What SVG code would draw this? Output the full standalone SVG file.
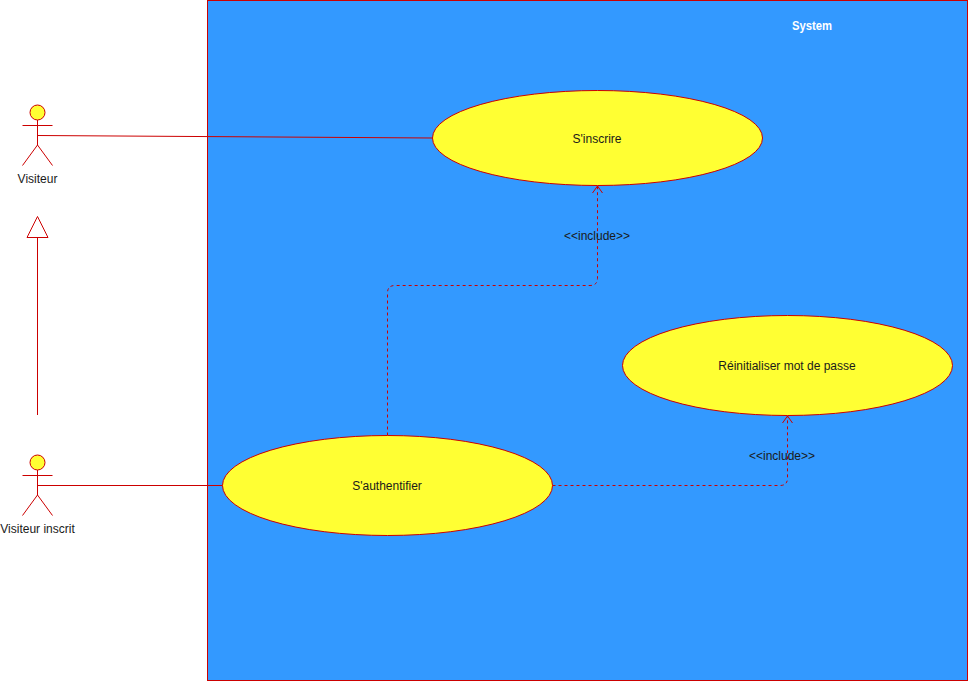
<svg xmlns="http://www.w3.org/2000/svg" width="968" height="681" viewBox="0 0 968 681">
<style>
text{font-family:"Liberation Sans",Arial,Helvetica,sans-serif;font-size:12px;text-anchor:middle;fill:#1a1a1a}
.shape{fill:#ffff33;stroke:#cc0000;stroke-width:1}
.line{fill:none;stroke:#cc0000;stroke-width:1}
.dash{fill:none;stroke:#cc0000;stroke-width:1;stroke-dasharray:3 3}
.head{fill:none;stroke:#cc0000;stroke-width:1}
</style>
<rect width="968" height="681" fill="#ffffff"/>
<g id="system">
<rect x="207.5" y="0.5" width="760" height="680" fill="#3399ff" stroke="#cc0000"/>
<text x="812" y="30" font-weight="bold" textLength="40" lengthAdjust="spacingAndGlyphs" style="fill:#ffffff">System</text>
</g>
<g id="connectors">
<path class="line" d="M37.5 135.500 L432.500 138"/>
<path class="line" d="M37.500 485.500 L222.500 485.500"/>
<path class="line" d="M37.500 415 L37.500 237.500"/>
<path class="head" d="M37.500 216.500 L48 237.500 L27 237.500 Z"/>
<path class="dash" d="M387.500 435.500 L387.500 293 Q387.500 285.500 395 285.500 L590 285.500 Q597.500 285.500 597.500 278 L597.500 186"/>
<path class="head" d="M592.500 193 L597.500 186 L602.500 193"/>
<path class="dash" d="M552.500 485.500 L780 485.500 Q787.500 485.500 787.500 478 L787.500 416"/>
<path class="head" d="M782.500 423 L787.500 416 L792.500 423"/>
<text x="597" y="240">&lt;&lt;include&gt;&gt;</text>
<text x="782" y="460">&lt;&lt;include&gt;&gt;</text>
</g>
<g id="actor-visiteur">
<circle class="shape" cx="37.500" cy="112.500" r="7.500"/>
<path class="line" d="M37.500 120 V145 M22.500 125.500 H52.500 M22.500 165.500 L37.500 145 L52.500 165.500"/>
<text x="37.500" y="183">Visiteur</text>
</g>
<g id="actor-visiteur-inscrit">
<circle class="shape" cx="37.500" cy="462.500" r="7.500"/>
<path class="line" d="M37.500 470 V495 M22.500 475.500 H52.500 M22.500 515.500 L37.500 495 L52.500 515.500"/>
<text x="37.500" y="533">Visiteur inscrit</text>
</g>
<g id="usecase-inscrire">
<ellipse class="shape" cx="597.500" cy="138" rx="165" ry="47.500"/>
<text x="597" y="143">S'inscrire</text>
</g>
<g id="usecase-reinitialiser">
<ellipse class="shape" cx="787.500" cy="365.500" rx="165" ry="50"/>
<text x="787" y="370">Réinitialiser mot de passe</text>
</g>
<g id="usecase-authentifier">
<ellipse class="shape" cx="387.500" cy="485.500" rx="165" ry="50"/>
<text x="387" y="490">S'authentifier</text>
</g>
</svg>
